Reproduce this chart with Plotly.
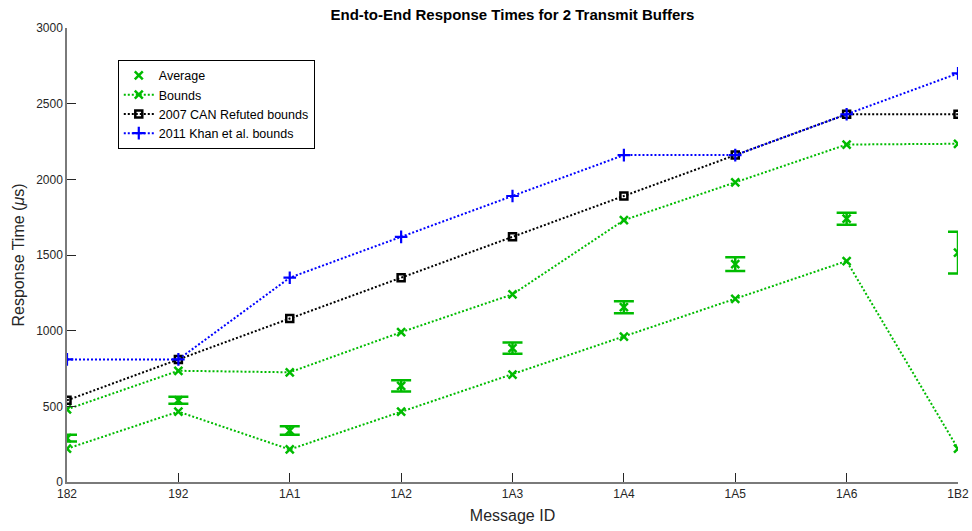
import plotly.graph_objects as go

message_ids = ["182", "192", "1A1", "1A2", "1A3", "1A4", "1A5", "1A6", "1B2"]

average = [290, 540, 340, 635, 885, 1155, 1440, 1740, 1515]
average_err = [22, 23, 28, 37, 37, 40, 45, 40, 138]

bounds_upper = [480, 735, 725, 990, 1240, 1730, 1980, 2230, 2235]
bounds_lower = [220, 465, 215, 465, 710, 960, 1210, 1460, 220]

can2007 = [540, 810, 1080, 1350, 1620, 1890, 2160, 2430, 2430]
khan2011 = [810, 810, 1350, 1620, 1890, 2160, 2160, 2430, 2700]

GREEN = "#00bb00"
FONT = "Liberation Sans, Arial, sans-serif"
DOT = "2px,2px"

fig = go.Figure()

fig.add_trace(go.Scatter(
    x=message_ids, y=average, mode="markers", name="Average",
    marker=dict(symbol="x-thin", size=8, color=GREEN, line=dict(width=2.5, color=GREEN)),
    error_y=dict(type="data", array=average_err, visible=True, color=GREEN, thickness=2.5, width=10),
))
fig.add_trace(go.Scatter(
    x=message_ids, y=bounds_upper, mode="lines+markers", name="Bounds",
    line=dict(color=GREEN, width=2, dash=DOT),
    marker=dict(symbol="x-thin", size=8, color=GREEN, line=dict(width=2.5, color=GREEN)),
))
fig.add_trace(go.Scatter(
    x=message_ids, y=bounds_lower, mode="lines+markers", name="Bounds", showlegend=False,
    line=dict(color=GREEN, width=2, dash=DOT),
    marker=dict(symbol="x-thin", size=8, color=GREEN, line=dict(width=2.5, color=GREEN)),
))
fig.add_trace(go.Scatter(
    x=message_ids, y=can2007, mode="lines+markers", name="2007 CAN Refuted bounds",
    line=dict(color="black", width=2, dash=DOT),
    marker=dict(symbol="square-open", size=7, color="black", line=dict(width=2.5, color="black")),
))
fig.add_trace(go.Scatter(
    x=message_ids, y=khan2011, mode="lines+markers", name="2011 Khan et al. bounds",
    line=dict(color="#0000ff", width=2, dash=DOT),
    marker=dict(symbol="cross-thin", size=9, color="#0000ff", line=dict(width=2.2, color="#0000ff")),
))

fig.update_layout(
    width=972, height=531,
    margin=dict(l=67, r=14, t=28, b=49, autoexpand=False),
    paper_bgcolor="white", plot_bgcolor="white",
    font=dict(family=FONT, color="#262626", size=12),
    title=dict(text="<b>End-to-End Response Times for 2 Transmit Buffers</b>",
               x=0.5, xref="paper", xanchor="center", y=0.972, yanchor="middle",
               font=dict(size=15, color="black", family=FONT)),
    legend=dict(x=0.057, y=0.93, xanchor="left", yanchor="top",
                bgcolor="white", bordercolor="black", borderwidth=1,
                font=dict(size=12.5, color="black", family=FONT),
                tracegroupgap=0, itemwidth=30),
    showlegend=True,
)

fig.update_xaxes(
    type="category", range=[0, 8], showgrid=False, zeroline=False, automargin=False,
    showline=True, linecolor="#7a7a7a", linewidth=1.5, mirror=False,
    ticks="inside", ticklen=9, tickcolor="#262626", tickwidth=1,
    tickfont=dict(size=12, color="#262626"),
    title=dict(text="Message ID", font=dict(size=16, color="#262626"), standoff=10),
)
fig.update_yaxes(
    range=[0, 3000], dtick=500, showgrid=False, zeroline=False, automargin=False,
    showline=True, linecolor="#7a7a7a", linewidth=1.5, mirror=False,
    ticks="inside", ticklen=9, tickcolor="#262626", tickwidth=1,
    tickfont=dict(size=12, color="#262626"),
    title=dict(text="Response Time (<i>μ</i>s)", font=dict(size=16, color="#262626"), standoff=8),
)

fig.write_html("out.html")
